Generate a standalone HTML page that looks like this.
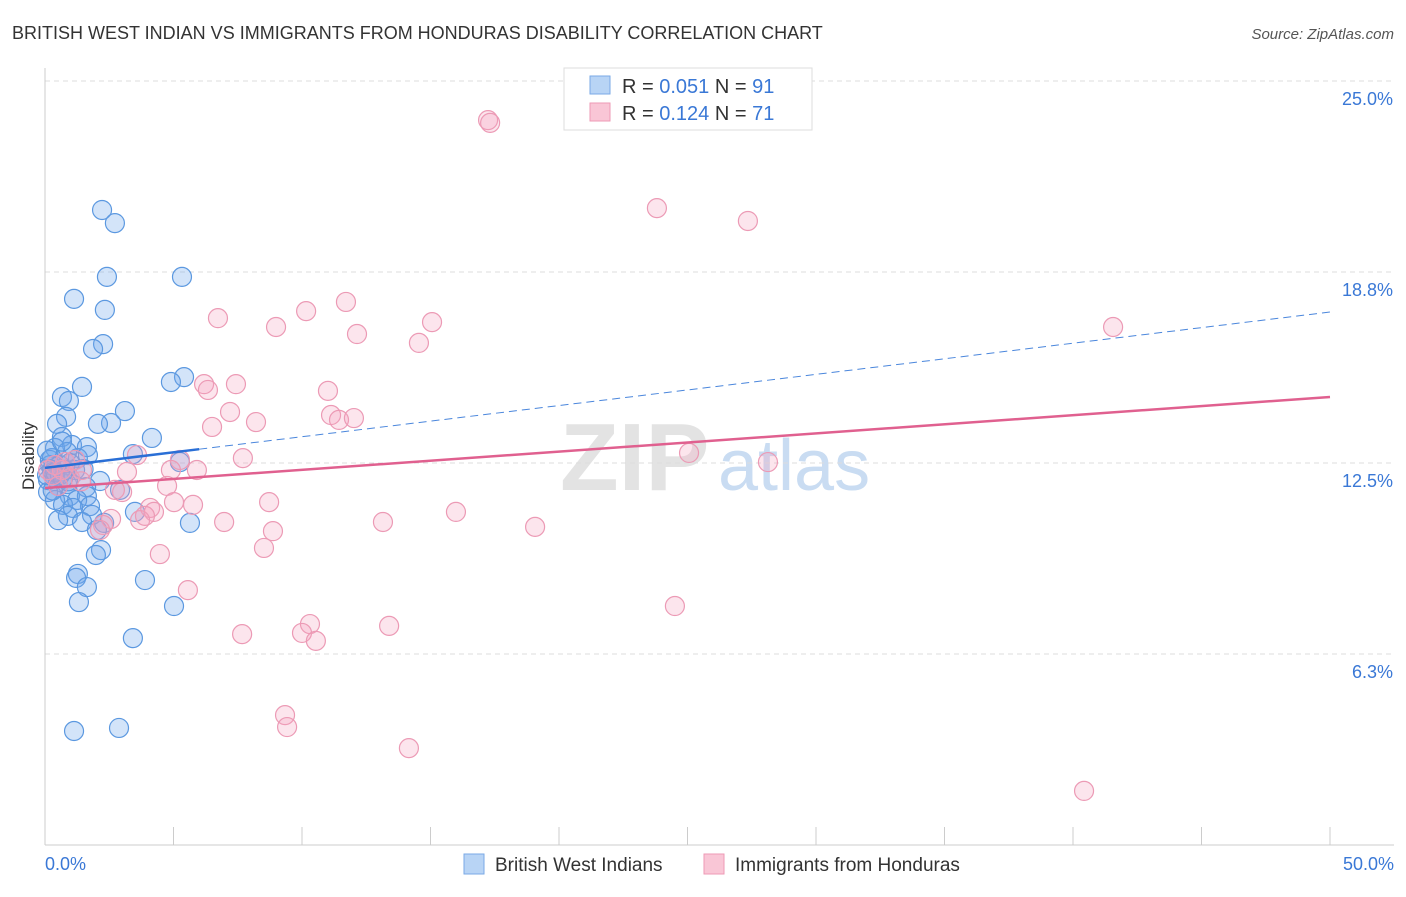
<!DOCTYPE html>
<html><head><meta charset="utf-8"><style>
body{margin:0;background:#fff;font-family:"Liberation Sans",sans-serif}
svg text{font-family:"Liberation Sans",sans-serif}
</style></head><body>
<svg id="chart" width="1406" height="892" xmlns="http://www.w3.org/2000/svg">
<text x="12" y="39" font-size="18" fill="#333">BRITISH WEST INDIAN VS IMMIGRANTS FROM HONDURAS DISABILITY CORRELATION CHART</text>
<text x="1394" y="39" font-size="15" fill="#555" font-style="italic" text-anchor="end">Source: ZipAtlas.com</text>
<text x="34" y="456" font-size="17" fill="#333" transform="rotate(-90 34 456)" text-anchor="middle">Disability</text>
<text x="560" y="490" font-size="96" fill="#ddd" font-weight="bold" opacity="0.8">ZIP</text>
<text x="718" y="490" font-size="72" fill="#c9dcf2">atlas</text>
<g id="grid"></g><g id="axes"></g><g id="points"></g><g id="trends"></g>
<g>
<rect x="564" y="68" width="248" height="62" fill="#fff" stroke="#ddd"/>
<rect x="590" y="76" width="20" height="18" fill="#b8d4f5" stroke="#7aa9e6"/>
<text x="622" y="93" font-size="20" fill="#333">R = <tspan fill="#3a78d6">0.051</tspan>   N = <tspan fill="#3a78d6">91</tspan></text>
<rect x="590" y="103" width="20" height="18" fill="#f9c6d6" stroke="#ee9ab5"/>
<text x="622" y="120" font-size="20" fill="#333">R =  <tspan fill="#3a78d6">0.124</tspan>   N = <tspan fill="#3a78d6">71</tspan></text>
</g>
<g>
<rect x="464" y="854" width="20" height="20" fill="#b8d4f5" stroke="#7aa9e6"/>
<text x="495" y="871" font-size="19" fill="#333">British West Indians</text>
<rect x="704" y="854" width="20" height="20" fill="#f9c6d6" stroke="#ee9ab5"/>
<text x="735" y="871" font-size="19" fill="#333">Immigrants from Honduras</text>
</g>
</svg>
<script>
const xTickLabels=["0.0%","50.0%"];
const yTickValues=[6.25,12.5,18.75,25];
const yTickLabels=["6.3%","12.5%","18.8%","25.0%"];
const blueX=[2.22,2.72,2.41,5.33,1.13,2.33,2.26,1.87,5.41,4.90,1.44,0.66,0.93,3.11,0.82,2.57,2.06,0.47,4.16,0.66,1.05,1.63,0.39,3.42,0.86,1.28,1.67,0.19,5.25,0.58,1.17,0.31,0.12,2.14,0.86,0.51,1.60,2.92,0.12,0.97,1.63,1.25,0.39,0.70,1.75,1.09,3.50,1.83,0.89,0.51,1.44,2.30,5.64,2.02,2.18,1.98,1.28,1.21,3.89,1.63,1.32,5.02,3.42,1.13,2.88,0.2,0.27,0.08,0.39,0.58,0.78,0.27,0.08,0.97,0.66,0.4,0.9,1.5,0.3,0.7];
const blueY=[20.78,20.35,18.59,18.59,17.87,17.51,16.39,16.23,15.31,15.15,14.99,14.66,14.53,14.20,14.01,13.81,13.78,13.78,13.32,13.35,13.09,13.02,12.99,12.79,12.86,12.66,12.76,12.60,12.53,12.43,12.27,12.21,11.94,11.91,11.81,11.75,11.71,11.62,11.55,11.42,11.42,11.29,11.29,11.13,11.09,11.03,10.90,10.80,10.77,10.63,10.57,10.54,10.54,10.31,9.65,9.49,8.87,8.74,8.67,8.44,7.95,7.82,6.77,3.73,3.83,12.43,12.27,12.1,12.0,12.1,12.27,12.66,12.9,12.5,13.2,12.2,11.9,12.3,11.6,12.0];
const pinkX=[17.24,17.32,23.81,27.35,41.56,11.71,10.16,15.06,6.73,8.99,12.14,14.55,7.43,6.19,6.34,11.01,7.20,11.13,11.44,12.02,8.21,6.50,7.70,3.58,5.25,5.91,4.90,25.06,28.13,3.19,1.44,4.75,3.00,2.72,8.72,5.02,5.76,4.09,4.24,15.99,13.15,6.97,3.70,3.89,2.57,2.26,19.07,8.87,2.14,8.52,4.47,5.56,24.51,10.31,13.39,7.67,10.00,10.54,9.34,9.42,14.16,40.43,0.39,0.66,0.97,0.12,0.78,0.51,1.17,0.3,1.4];
const pinkY=[23.72,23.63,20.84,20.42,16.95,17.77,17.47,17.11,17.24,16.95,16.72,16.43,15.08,15.08,14.89,14.86,14.17,14.07,13.91,13.97,13.84,13.68,12.66,12.76,12.60,12.27,12.27,12.83,12.53,12.21,12.27,11.75,11.55,11.62,11.22,11.22,11.13,11.03,10.90,10.90,10.57,10.57,10.63,10.77,10.67,10.47,10.41,10.27,10.31,9.72,9.52,8.34,7.82,7.23,7.17,6.90,6.94,6.68,4.25,3.86,3.17,1.77,12.43,12.27,12.0,12.27,12.53,11.75,12.6,12.1,11.9];
const blueTrend=[12.34,17.44];
const pinkTrend=[11.68,14.66];
const blueSolidEnd=6.0;
const NS="http://www.w3.org/2000/svg";
const X0=45,X1=1330,YB=845,PXPER=191/6.25;
const sx=v=>X0+(v/50)*(X1-X0);
const sy=v=>YB-v*PXPER;
function mk(tag,attrs,parent){const e=document.createElementNS(NS,tag);for(const k in attrs)e.setAttribute(k,attrs[k]);parent.appendChild(e);return e;}
const grid=document.getElementById('grid'),axes=document.getElementById('axes'),pts=document.getElementById('points'),tr=document.getElementById('trends');
yTickValues.forEach((v,i)=>{
 const l=mk('line',{x1:X0,x2:1394,y1:sy(v),y2:sy(v),stroke:'#ddd','stroke-dasharray':'5,4'},grid);
 
 
 const t=mk('text',{x:1393,y:sy(v)+24,'font-size':18,fill:'#3a78d6','text-anchor':'end'},grid);
 t.textContent=yTickLabels[i];
 
 
});
const ax=mk('line',{x1:X0,x2:X0,y1:68,y2:YB,stroke:'#ccc'},axes);


const bx=mk('line',{x1:X0,x2:1394,y1:YB,y2:YB,stroke:'#ccc'},axes);


for(let i=0;i<=10;i++){const t=mk('line',{x1:sx(i*5),x2:sx(i*5),y1:YB,y2:YB-18,stroke:'#ccc'},axes);
 
 }
[[0,'start',45],[50,'end',1394]].forEach((a,i)=>{const t=mk('text',{x:a[2],y:870,'font-size':18,fill:'#3a78d6','text-anchor':a[1]},axes);t.textContent=xTickLabels[i];
 
 });
blueX.forEach((v,i)=>{const c=mk('circle',{cx:sx(v),cy:sy(blueY[i]),r:9.5,fill:'rgba(110,165,235,0.3)',stroke:'#5b98e0','stroke-width':1.2},pts);
 
 });
pinkX.forEach((v,i)=>{const c=mk('circle',{cx:sx(v),cy:sy(pinkY[i]),r:9.5,fill:'rgba(245,160,190,0.28)',stroke:'#ec9ab5','stroke-width':1.2},pts);
 
 });
const bAt=x=>blueTrend[0]+(blueTrend[1]-blueTrend[0])*x/50;
const l1=mk('line',{x1:sx(0),y1:sy(bAt(0)),x2:sx(blueSolidEnd),y2:sy(bAt(blueSolidEnd)),stroke:'#2a6fd6','stroke-width':2.5},tr);


const l2=mk('line',{x1:sx(blueSolidEnd),y1:sy(bAt(blueSolidEnd)),x2:sx(50),y2:sy(bAt(50)),stroke:'#4a86dc','stroke-width':1,'stroke-dasharray':'8,5'},tr);


const l3=mk('line',{x1:sx(0),y1:sy(pinkTrend[0]),x2:sx(50),y2:sy(pinkTrend[1]),stroke:'#e0608f','stroke-width':2.5},tr);


</script>
</body></html>
